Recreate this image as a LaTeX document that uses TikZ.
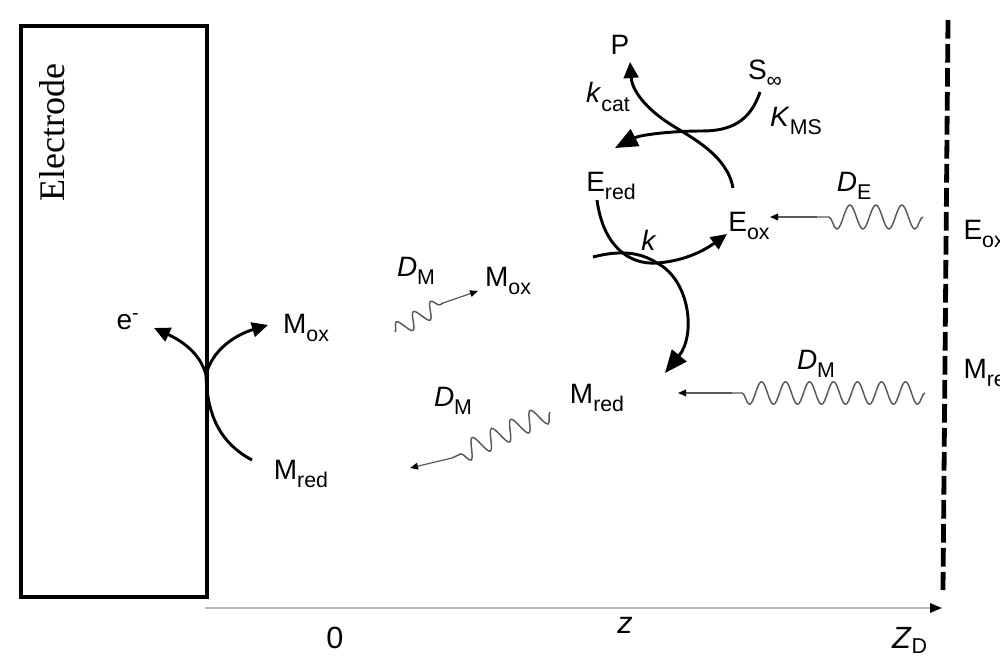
\documentclass[tikz,border=0pt]{standalone}
\usepackage{fontspec}
\setmainfont{Liberation Sans}
\newfontfamily\electrodefont{Liberation Serif}
\usetikzlibrary{arrows.meta,decorations.pathmorphing}

\newcommand{\lsub}[1]{\raisebox{-0.3em}{\fontsize{16}{16}\selectfont #1}}
\tikzset{every picture/.style={line width=0.75pt}}
\tikzset{
rxn/.style={line width=2.2pt, -{Triangle[length=12pt,width=11pt]}},
rxnbig/.style={line width=2.2pt, -{Triangle[length=17pt,width=14pt]}},
wavy/.style={draw=gray!70!black, line width=1.1pt, decorate},
tail/.style={draw=gray!70!black, line width=0.9pt, -{Triangle[length=6pt,width=5pt,color=black]}},
lbl/.style={inner sep=0.75pt, font=\fontsize{21}{24}\selectfont},
axlbl/.style={inner sep=0.75pt, font=\fontsize{23}{26}\selectfont}}

\begin{document}
\begin{tikzpicture}[x=0.75pt,y=0.75pt,yscale=-1,xscale=1]
\path[use as bounding box] (0,0) rectangle (1000,670);

%Shape: Rectangle [electrode]
\draw[line width=2.3pt] (21,26) rectangle (207,597);
\node[rotate=90, inner sep=0pt, font=\electrodefont\fontsize{27}{30}\selectfont] (electrode) at (52,133) {Electrode};

%Shape: Dashed boundary
\coordinate (bndtop) at (948,20);
\coordinate (bndbot) at (943,590);
\draw[line width=3.6pt, dash pattern=on 14pt off 4pt] (bndtop) -- (bndbot);

%Shape: Axis
\coordinate (axstart) at (205,608);
\coordinate (axend) at (942,608);
\draw[draw=gray!55, line width=1.6pt, -{Triangle[length=9pt,width=7pt,color=black]}] (axstart) -- (axend);

% Text Node
\node[axlbl] (zero) at (335,638) {0};
\node[axlbl] (zlbl) at (625,625) {\textit{z}};
\node[axlbl] (zd) at (910,640) {\textit{Z}\textsubscript{D}};

% Text Node
\node[lbl] (eminus) at (128,322) {e\textsuperscript{-}};
\node[lbl] (moxa) at (306,328) {M\lsub{ox}};
\node[lbl] (mreda) at (301,474) {M\lsub{red}};
\node[lbl] (dma) at (416,271) {\textit{D}\lsub{M}};
\node[lbl] (moxb) at (508,281) {M\lsub{ox}};
\node[lbl] (dmb) at (453,401) {\textit{D}\lsub{M}};
\node[lbl] (mredb) at (597,398) {M\lsub{red}};
\node[lbl] (dmc) at (816,364) {\textit{D}\lsub{M}};
\node[lbl] (de) at (854,186) {\textit{D}\lsub{E}};
\node[lbl] (eox) at (749,226) {E\lsub{ox}};
\node[lbl] (ered) at (611,186) {E\lsub{red}};
\node[lbl] (prod) at (620,45) {P};
\node[lbl] (sinf) at (765,74) {S\lsub{∞}};
\node[lbl] (kcat) at (608,97) {\textit{k}\lsub{cat}};
\node[lbl] (kms) at (796,121) {\textit{K}\lsub{MS}};
\node[lbl] (kk) at (649,240) {\textit{k}};
\node[lbl, anchor=west] (eoxb) at (962,234) {E\lsub{ox}};
\node[lbl, anchor=west] (mredc) at (962,373) {M\lsub{red}};

%Curve Lines: electrode reaction
\coordinate (junc) at (206,375);
\coordinate (emtip) at (154,328);
\coordinate (moxtip) at (268,325);
\coordinate (mredend) at (252,460);
\draw[rxn] (junc) .. controls (200,352) and (180,340) .. (emtip);
\draw[rxn] (junc) .. controls (212,350) and (235,335) .. (moxtip);
\draw[line width=2.2pt] (mredend) .. controls (218,442) and (207,412) .. (junc);

%Curve Lines: enzyme cycle
\coordinate (sstart) at (760,92);
\coordinate (sbottom) at (702,131);
\coordinate (eredtip) at (615,148);
\coordinate (pstart) at (733,188);
\coordinate (pmid) at (670,124);
\coordinate (ptip) at (630,62);
\coordinate (kstart) at (597,200);
\coordinate (kbottom) at (657,263);
\coordinate (eoxtip) at (727,234);
\coordinate (mstart) at (593,257);
\coordinate (mtip) at (665,373);
\draw[rxnbig] (sstart) .. controls (750,122) and (730,131) .. (sbottom) .. controls (670,131) and (640,135) .. (eredtip);
\draw[rxn] (pstart) .. controls (727,155) and (692,138) .. (pmid) .. controls (645,108) and (632,90) .. (ptip);
\draw[rxn] (kstart) .. controls (603,245) and (628,265) .. (kbottom) .. controls (685,261) and (705,250) .. (eoxtip);
\draw[rxnbig] (mstart) .. controls (620,250) and (640,252) .. (kbottom) .. controls (690,280) and (696,335) .. (mtip);

%Wavy Lines: diffusion
\coordinate (wa1) at (395,332);
\coordinate (wa2) at (443,303);
\coordinate (watip) at (478,291);
\draw[wavy, decoration={snake, amplitude=6pt, segment length=15pt}] (wa1) -- (wa2);
\draw[tail] (wa2) -- (watip);

\coordinate (wb1) at (550,412);
\coordinate (wb2) at (452,458);
\coordinate (wbtip) at (410,468);
\draw[wavy, decoration={snake, amplitude=7.5pt, segment length=16pt}] (wb1) -- (wb2);
\draw[tail] (wb2) -- (wbtip);

\coordinate (wc1) at (925,393);
\coordinate (wc2) at (732,393);
\coordinate (wctip) at (678,393);
\draw[wavy, decoration={snake, amplitude=8.5pt, segment length=18pt}] (wc1) -- (wc2);
\draw[tail] (wc2) -- (wctip);

\coordinate (wd1) at (923,217);
\coordinate (wd2) at (817,217);
\coordinate (wdtip) at (770,217);
\draw[wavy, decoration={snake, amplitude=9pt, segment length=19.5pt}] (wd1) -- (wd2);
\draw[tail] (wd2) -- (wdtip);

\end{tikzpicture}
\end{document}
